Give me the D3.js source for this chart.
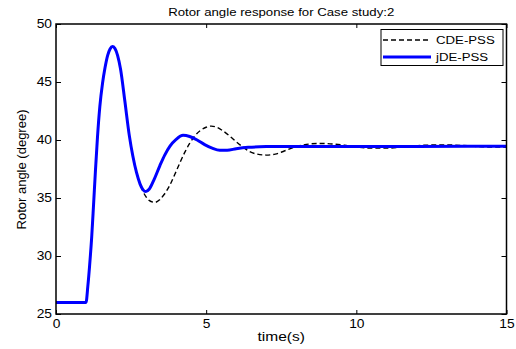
<!DOCTYPE html>
<html>
<head>
<meta charset="utf-8">
<script src="https://cdn.jsdelivr.net/npm/d3@7"></script>
<style>
  body { margin: 0; background: #fff; }
  svg text { font-family: "Liberation Sans", Arial, sans-serif; fill: #000; }
</style>
</head>
<body>
<svg id="chart" width="516" height="349"></svg>
<script>
// jDE-PSS (solid blue)
var jdeTime = [0, 1.0, 1.06, 1.12, 1.19, 1.25, 1.31, 1.38, 1.46, 1.55, 1.63, 1.72, 1.8, 1.88, 1.96, 2.05, 2.15, 2.29, 2.44, 2.56, 2.68, 2.8, 2.9, 2.99, 3.1, 3.25, 3.46, 3.62, 3.79, 4.0, 4.23, 4.45, 4.7, 4.95, 5.2, 5.45, 5.7, 6.0, 6.4, 7, 8, 10, 12, 15];
var jdeAngle = [26, 26, 27.4, 29.2, 31.7, 34.4, 37.2, 40.2, 42.9, 44.9, 46.2, 47.3, 47.85, 48.05, 47.9, 47.3, 46.1, 43.4, 40.4, 38.6, 37.2, 36.2, 35.7, 35.55, 35.75, 36.5, 37.8, 38.7, 39.45, 40.05, 40.4, 40.3, 40.0, 39.6, 39.3, 39.12, 39.12, 39.25, 39.37, 39.43, 39.45, 39.45, 39.45, 39.47];

// CDE-PSS (dashed black)
var cdeTime = [0, 1.0, 1.06, 1.12, 1.19, 1.25, 1.31, 1.38, 1.46, 1.55, 1.63, 1.72, 1.8, 1.88, 1.96, 2.05, 2.15, 2.29, 2.44, 2.56, 2.68, 2.8, 2.9, 3.0, 3.1, 3.29, 3.45, 3.6, 3.79, 3.95, 4.12, 4.3, 4.45, 4.62, 4.8, 5.0, 5.17, 5.35, 5.55, 5.78, 6.0, 6.22, 6.45, 6.7, 7.0, 7.3, 7.6, 7.9, 8.2, 8.5, 8.8, 9.2, 9.6, 10.0, 10.5, 11.0, 11.6, 12.3, 13.0, 13.7, 14.3, 15];
var cdeAngle = [26, 26, 27.4, 29.2, 31.7, 34.4, 37.2, 40.2, 42.9, 44.9, 46.2, 47.3, 47.85, 48.05, 47.9, 47.3, 46.1, 43.4, 40.4, 38.6, 37.2, 36.2, 35.55, 35.1, 34.8, 34.62, 34.85, 35.3, 36.1, 37.0, 38.0, 39.0, 39.7, 40.35, 40.8, 41.1, 41.2, 41.1, 40.8, 40.35, 39.85, 39.4, 39.0, 38.78, 38.7, 38.78, 39.05, 39.35, 39.55, 39.67, 39.7, 39.66, 39.55, 39.4, 39.3, 39.3, 39.4, 39.55, 39.58, 39.5, 39.4, 39.38];

var xTicks = [0, 5, 10, 15];
var yTicks = [25, 30, 35, 40, 45, 50];
var seriesNames = ["CDE-PSS", "jDE-PSS"];

var width = 516, height = 349;
var margin = {top: 24, right: 9.5, bottom: 35, left: 56};
var innerW = width - margin.left - margin.right;
var innerH = height - margin.top - margin.bottom;
var stretch = 1.15;   // the picture's text is a bit wide

var svg = d3.select('#chart');
var g = svg.append('g').attr('transform', 'translate(' + margin.left + ',' + margin.top + ')');

var x = d3.scaleLinear().domain([0, 15]).range([0, innerW]);
var y = d3.scaleLinear().domain([25, 50]).range([innerH, 0]);

function styleAxis(sel) {
    sel.select('.domain').remove();
    sel.selectAll('line').attr('stroke', '#000').attr('stroke-width', 1);
    sel.selectAll('text').style('font-size', '12px').attr('fill', '#000');
}

// ticks pointing inward on all four sides
g.append('g').attr('transform', 'translate(0,' + innerH + ')')
    .call(d3.axisBottom(x).tickValues(xTicks).tickSize(-4).tickPadding(5).tickFormat(d3.format('d')))
    .call(styleAxis)
    .selectAll('text').attr('transform', 'scale(' + stretch + ',1)');
g.append('g')
    .call(d3.axisTop(x).tickValues(xTicks).tickSize(-4).tickFormat(''))
    .call(styleAxis);
g.append('g')
    .call(d3.axisLeft(y).tickValues(yTicks).tickSize(-5).tickPadding(3.5).tickFormat(d3.format('d')))
    .call(styleAxis)
    .selectAll('text').attr('transform', 'scale(' + stretch + ',1)');
g.append('g').attr('transform', 'translate(' + innerW + ',0)')
    .call(d3.axisRight(y).tickValues(yTicks).tickSize(-5).tickFormat(''))
    .call(styleAxis);

var line = d3.line()
    .x(function (d) { return x(d[0]); })
    .y(function (d) { return y(d[1]); })
    .curve(d3.curveMonotoneX);

var cde = d3.zip(cdeTime, cdeAngle);
var jde = d3.zip(jdeTime, jdeAngle);

g.append('path').datum(cde)
    .attr('d', line)
    .attr('fill', 'none')
    .attr('stroke', '#000')
    .attr('stroke-width', 1.4)
    .attr('stroke-dasharray', '5,3');

g.append('path').datum(jde)
    .attr('d', line)
    .attr('fill', 'none')
    .attr('stroke', '#0000ff')
    .attr('stroke-width', 3)
    .attr('stroke-linejoin', 'round');

// frame
g.append('rect')
    .attr('width', innerW).attr('height', innerH)
    .attr('fill', 'none').attr('stroke', '#000').attr('stroke-width', 1.5);

// title + axis labels
svg.append('text')
    .attr('transform', 'translate(' + (margin.left + innerW / 2) + ',16) scale(' + stretch + ',1)')
    .attr('text-anchor', 'middle')
    .style('font-size', '11.5px')
    .text('Rotor angle response for Case study:2');

svg.append('text')
    .attr('transform', 'translate(' + (margin.left + innerW / 2) + ',341) scale(' + stretch + ',1)')
    .attr('text-anchor', 'middle')
    .style('font-size', '13.5px')
    .text('time(s)');

svg.append('text')
    .attr('transform', 'translate(26,' + (margin.top + innerH / 2 + 0.5) + ') rotate(-90)')
    .attr('text-anchor', 'middle')
    .style('font-size', '13px')
    .text('Rotor angle (degree)');

// legend
var legend = g.append('g').attr('transform', 'translate(' + (381 - margin.left) + ',' + (29.5 - margin.top) + ')');
legend.append('rect')
    .attr('width', 122).attr('height', 36)
    .attr('fill', '#fff').attr('stroke', '#000').attr('stroke-width', 1);

var legendStyles = [
    {stroke: '#000', width: 1.4, dash: '5,3'},
    {stroke: '#0000ff', width: 3, dash: null}
];
seriesNames.forEach(function (name, i) {
    var ly = 10.5 + i * 17;
    legend.append('line')
        .attr('x1', 2).attr('x2', 50)
        .attr('y1', ly).attr('y2', ly)
        .attr('stroke', legendStyles[i].stroke)
        .attr('stroke-width', legendStyles[i].width)
        .attr('stroke-dasharray', legendStyles[i].dash);
    legend.append('text')
        .attr('transform', 'translate(55,' + (ly + 4.2) + ') scale(' + stretch + ',1)')
        .style('font-size', '11.5px')
        .text(name);
});
</script>
</body>
</html>
